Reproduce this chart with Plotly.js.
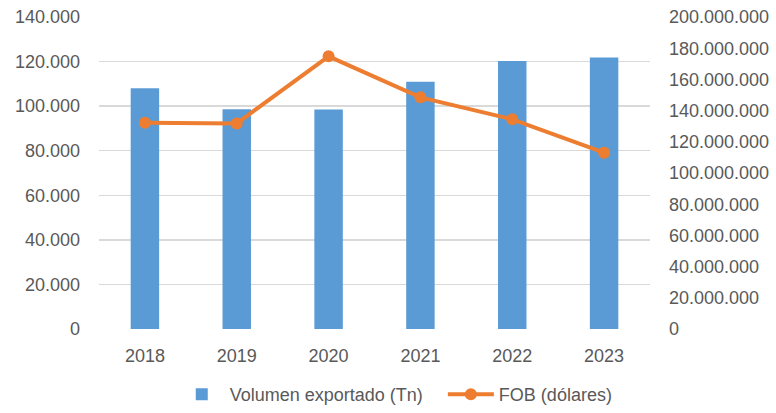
<!DOCTYPE html>
<html>
<head>
<meta charset="utf-8">
<script src="https://cdn.plot.ly/plotly-3.0.1.min.js"></script>
<style>html,body{margin:0;padding:0;background:#fff;}#chart{width:776px;height:413px;}</style>
</head>
<body>
<div id="chart"></div>
<script>
const years = ["2018", "2019", "2020", "2021", "2022", "2023"];
const volumen = [108000, 98600, 98500, 111000, 120300, 121800];
const fob = [132200000, 131800000, 174800000, 148500000, 134400000, 113000000];
const leftTicks = [0, 20000, 40000, 60000, 80000, 100000, 120000, 140000];
const rightTicks = [0, 20000000, 40000000, 60000000, 80000000, 100000000, 120000000, 140000000, 160000000, 180000000, 200000000];

function fmt(v) {
  return String(v).replace(/\B(?=(\d{3})+(?!\d))/g, ".");
}

const font = {family: "Liberation Sans, Arial, sans-serif", size: 18, color: "#595959"};

const traces = [
  {
    type: "bar", x: years, y: volumen, name: "Volumen exportado (Tn)\u00a0\u00a0\u00a0",
    marker: {color: "#5b9bd5"}, yaxis: "y"
  },
  {
    type: "scatter", mode: "lines+markers", x: years, y: fob, name: "FOB (dólares)",
    line: {color: "#ed7d31", width: 4}, marker: {color: "#ed7d31", size: 12}, yaxis: "y2"
  }
];

const layout = {
  width: 776, height: 413,
  margin: {l: 99, r: 126, t: 17, b: 84, autoexpand: false},
  paper_bgcolor: "#fff", plot_bgcolor: "#fff",
  font: font,
  bargap: 0.69,
  showlegend: true,
  legend: {orientation: "h", x: 0.51, xref: "container", xanchor: "center", y: 0, yref: "container", yanchor: "bottom", font: font, itemwidth: 46},
  xaxis: {type: "category", showgrid: false, zeroline: false, showline: false, ticks: "", tickfont: font, ticklabelstandoff: 14},
  yaxis: {
    range: [0, 140000], tickvals: leftTicks, ticktext: leftTicks.map(fmt),
    showgrid: true, gridcolor: "#d9d9d9", gridwidth: 1.5, zeroline: false, showline: false,
    ticks: "", tickfont: font, ticklabelstandoff: 18
  },
  yaxis2: {
    overlaying: "y", side: "right", range: [0, 200000000], tickvals: rightTicks, ticktext: rightTicks.map(fmt),
    showgrid: false, zeroline: false, showline: false, ticks: "", tickfont: font, ticklabelstandoff: 18
  }
};

Plotly.newPlot("chart", traces, layout, {displayModeBar: false, staticPlot: true});
</script>
</body>
</html>
